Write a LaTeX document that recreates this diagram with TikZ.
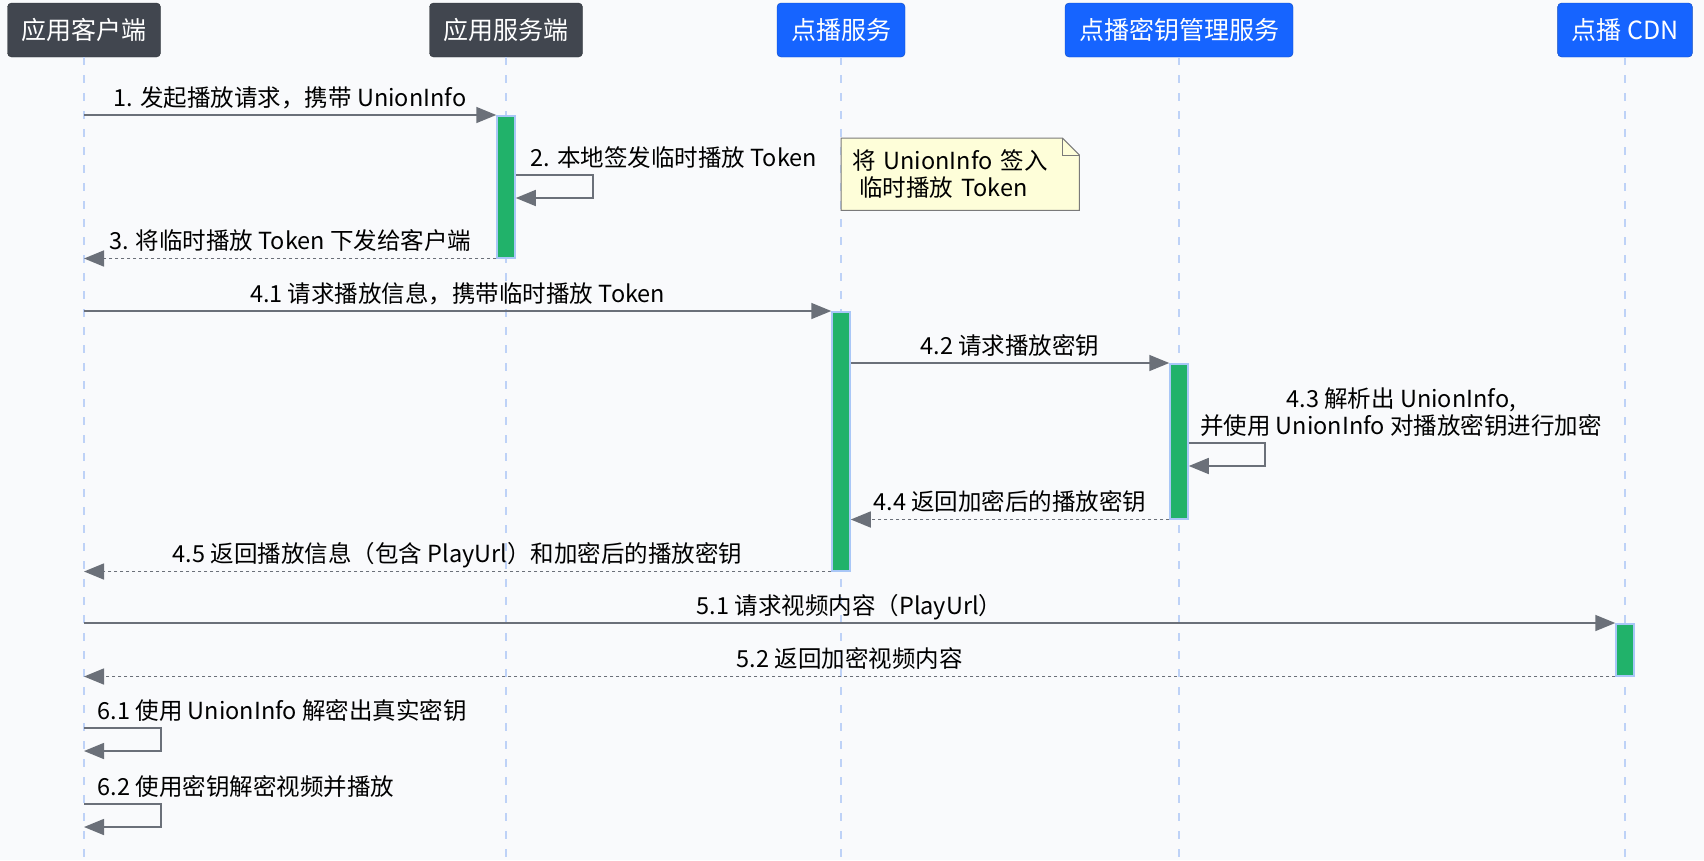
\documentclass[tikz,border=0pt]{standalone}
\usepackage{fontspec}
\setmainfont{Noto Sans CJK SC}
\usetikzlibrary{arrows.meta,positioning}

\definecolor{pagebg}{HTML}{F9FAFC}
\definecolor{actordark}{HTML}{41464F}
\definecolor{actorblue}{HTML}{1664FF}
\definecolor{actgreen}{HTML}{21B26A}
\definecolor{actedge}{HTML}{A9C7F7}
\definecolor{msggray}{HTML}{6B7079}
\definecolor{lifeblue}{HTML}{BED2F7}
\definecolor{notefill}{HTML}{FEFED9}
\definecolor{noteedge}{HTML}{7A7A7A}

\tikzset{
  actor/.style={draw=#1!75!black, fill=#1, text=white, rounded corners=4pt,
    minimum height=54pt, inner xsep=14pt, font=\fontsize{25}{30}\selectfont},
  life/.style={draw=lifeblue, line width=1.5pt, dash pattern=on 8pt off 10pt},
  act/.style={draw=actedge, fill=actgreen, line width=1.5pt, minimum width=18pt,
    inner sep=0pt, anchor=north},
  msg/.style={draw=msggray, line width=1.6pt, -{Triangle[length=20pt,width=16pt]}},
  ret/.style={msg, dash pattern=on 3pt off 3pt},
  txt/.style={font=\fontsize{23.5}{27}\selectfont, text=black, inner sep=0pt},
  lbl/.style={txt, anchor=base, yshift=9pt},
  note/.style={txt, fill=notefill, anchor=north west, text width=216pt, align=left,
    inner xsep=11pt, minimum height=72pt},
}

\begin{document}
\begin{tikzpicture}[x=1pt,y=-1pt]
  %% Canvas
  \fill[pagebg] (0,0) rectangle (1704,860);
  \useasboundingbox (0,0) rectangle (1704,860);

  %% Participants
  \node[actor=actordark] (client) at (84,30) {应用客户端};
  \node[actor=actordark] (server) at (506,30) {应用服务端};
  \node[actor=actorblue] (vod) at (841,30) {点播服务};
  \node[actor=actorblue] (kms) at (1179,30) {点播密钥管理服务};
  \node[actor=actorblue] (cdn) at (1625,30) {点播 CDN};

  %% Lifelines
  \foreach \p in {client,server,vod,kms,cdn}
    \draw[life] (\p.south) -- (\p.south |- 0,860);

  %% Activations
  \node[act, minimum height=142pt] (actS) at (506,115) {};
  \node[act, minimum height=259pt] (actV) at (841,311) {};
  \node[act, minimum height=155pt] (actK) at (1179,363) {};
  \node[act, minimum height=52pt] (actC) at (1625,623) {};

  %% Note
  \node[note] (sign) at (841,138) {将 UnionInfo 签入\\\hspace*{7pt}临时播放 Token};
  \fill[pagebg] ([xshift=-17pt]sign.north east) -- (sign.north east) -- ([yshift=-17pt]sign.north east) -- cycle;
  \draw[noteedge, line width=1pt] (sign.north west) -- ([xshift=-17pt]sign.north east)
    -- ([yshift=-17pt]sign.north east) -- (sign.south east) -- (sign.south west) -- cycle;
  \draw[noteedge, line width=1pt] ([xshift=-17pt]sign.north east) -- ([xshift=-17pt,yshift=-17pt]sign.north east)
    -- ([yshift=-17pt]sign.north east);

  %% Token
  \draw[msg] (client.south |- actS.north) -- (actS.north west)
    node[lbl, midway] {1. 发起播放请求，携带 UnionInfo};
  \draw[msg] (actS.east |- 0,175) -- ++(77,0) node[lbl, anchor=base west, pos=0, xshift=14pt] {2. 本地签发临时播放 Token}
    -- ++(0,23) -- (actS.east |- 0,198);
  \draw[ret] (actS.south west) -- (client.south |- actS.south)
    node[lbl, midway] {3. 将临时播放 Token 下发给客户端};

  %% Play info and key
  \draw[msg] (client.south |- actV.north) -- (actV.north west)
    node[lbl, midway] {4.1 请求播放信息，携带临时播放 Token};
  \draw[msg] (actV.east |- actK.north) -- (actK.north west)
    node[lbl, midway] {4.2 请求播放密钥};
  \draw[msg] (actK.east |- 0,443) -- ++(76,0) -- ++(0,23) -- (actK.east |- 0,466);
  \node[txt, align=center, anchor=base] (parse) at (1401,434)
    {4.3 解析出 UnionInfo,\\并使用 UnionInfo 对播放密钥进行加密};
  \draw[ret] (actK.south west) -- (actV.east |- actK.south)
    node[lbl, midway] {4.4 返回加密后的播放密钥};
  \draw[ret] (actV.south west) -- (client.south |- actV.south)
    node[lbl, midway] {4.5 返回播放信息（包含 PlayUrl）和加密后的播放密钥};

  %% Content
  \draw[msg] (client.south |- actC.north) -- (actC.north west)
    node[lbl, midway] {5.1 请求视频内容（PlayUrl）};
  \draw[ret] (actC.south west) -- (client.south |- actC.south)
    node[lbl, midway] {5.2 返回加密视频内容};

  %% Client side
  \draw[msg] (client.south |- 0,728) -- ++(77,0) node[lbl, anchor=base west, pos=0, xshift=13pt] {6.1 使用 UnionInfo 解密出真实密钥}
    -- ++(0,23) -- (client.south |- 0,751);
  \draw[msg] (client.south |- 0,804) -- ++(77,0) node[lbl, anchor=base west, pos=0, xshift=13pt] {6.2 使用密钥解密视频并播放}
    -- ++(0,23) -- (client.south |- 0,827);
\end{tikzpicture}
\end{document}
